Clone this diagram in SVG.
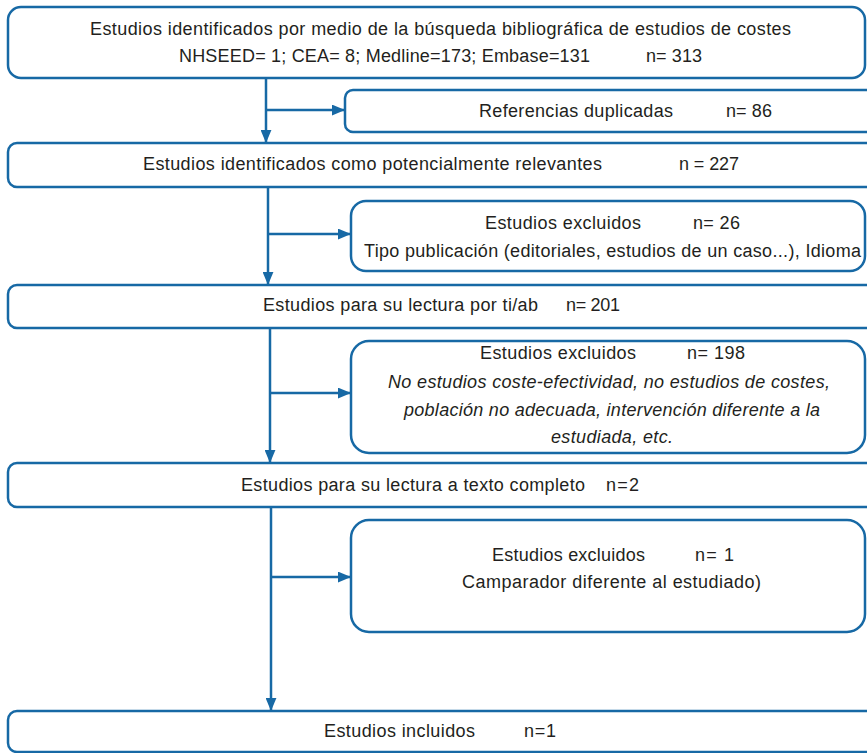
<svg xmlns="http://www.w3.org/2000/svg" width="867" height="753" viewBox="0 0 867 753">
<style>
.box{fill:#ffffff;stroke:#1769a5;stroke-width:2.5}
.con{fill:none;stroke:#1769a5;stroke-width:2.5}
.t{font-family:"Liberation Sans",Arial,sans-serif;font-size:18px;fill:#231f20}
.i{font-style:italic}
</style>
<defs>
<marker id="ah" viewBox="0 0 12 10" refX="12" refY="5" markerWidth="13" markerHeight="11" markerUnits="userSpaceOnUse" orient="auto">
<path d="M0,0 L12,5 L0,10 z" fill="#1769a5"/>
</marker>
</defs>
<rect width="867" height="753" fill="#ffffff"/>
<g id="connectors">
<path class="con" d="M266,78 V143" marker-end="url(#ah)"/>
<path class="con" d="M266,110 H345" marker-end="url(#ah)"/>
<path class="con" d="M268,187 V285" marker-end="url(#ah)"/>
<path class="con" d="M268,234 H351" marker-end="url(#ah)"/>
<path class="con" d="M270,328 V463" marker-end="url(#ah)"/>
<path class="con" d="M270,393 H351" marker-end="url(#ah)"/>
<path class="con" d="M271,508 V711" marker-end="url(#ah)"/>
<path class="con" d="M271,577 H351" marker-end="url(#ah)"/>
</g>
<g id="n1">
<rect class="box" x="8" y="7" width="857" height="71" rx="13"/>
<text class="t" x="90" y="35" textLength="701">Estudios identificados por medio de la búsqueda bibliográfica de estudios de costes</text>
<text class="t" x="179" y="62" textLength="411">NHSEED= 1; CEA= 8; Medline=173; Embase=131</text>
<text class="t" x="646" y="62" textLength="56">n= 313</text>
</g>
<g id="n2">
<rect class="box" x="345" y="90" width="540" height="42" rx="8"/>
<text class="t" x="479" y="117" textLength="194">Referencias duplicadas</text>
<text class="t" x="726" y="117" textLength="46">n= 86</text>
</g>
<g id="n3">
<rect class="box" x="8" y="143" width="880" height="44" rx="9"/>
<text class="t" x="143" y="170" textLength="459">Estudios identificados como potencialmente relevantes</text>
<text class="t" x="679" y="170" textLength="60">n = 227</text>
</g>
<g id="n4">
<rect class="box" x="351" y="201" width="514" height="70" rx="15"/>
<text class="t" x="485" y="229" textLength="156">Estudios excluidos</text>
<text class="t" x="693" y="229" textLength="47">n= 26</text>
<text class="t" x="364" y="257" textLength="497">Tipo publicación (editoriales, estudios de un caso...), Idioma</text>
</g>
<g id="n5">
<rect class="box" x="8" y="285" width="880" height="43" rx="9"/>
<text class="t" x="263" y="311" textLength="275">Estudios para su lectura por ti/ab</text>
<text class="t" x="566" y="311" textLength="54">n= 201</text>
</g>
<g id="n6">
<rect class="box" x="351" y="341" width="514" height="112" rx="18"/>
<text class="t" x="480" y="359" textLength="156">Estudios excluidos</text>
<text class="t" x="687" y="359" textLength="58">n= 198</text>
<text class="t i" x="388" y="388" textLength="442">No estudios coste-efectividad, no estudios de costes,</text>
<text class="t i" x="404" y="416" textLength="416">población no adecuada, intervención diferente a la</text>
<text class="t i" x="551" y="443" textLength="122">estudiada, etc.</text>
</g>
<g id="n7">
<rect class="box" x="8" y="463" width="880" height="44" rx="9"/>
<text class="t" x="241" y="491" textLength="344">Estudios para su lectura a texto completo</text>
<text class="t" x="606" y="491" textLength="33">n=2</text>
</g>
<g id="n8">
<rect class="box" x="351" y="520" width="514" height="112" rx="18"/>
<text class="t" x="492" y="561" textLength="153">Estudios excluidos</text>
<text class="t" x="695" y="561" textLength="39">n= 1</text>
<text class="t" x="462" y="588" textLength="299">Camparador diferente al estudiado)</text>
</g>
<g id="n9">
<rect class="box" x="8" y="711" width="880" height="41" rx="9"/>
<text class="t" x="324" y="737" textLength="151">Estudios incluidos</text>
<text class="t" x="524" y="737" textLength="32">n=1</text>
</g>
</svg>
